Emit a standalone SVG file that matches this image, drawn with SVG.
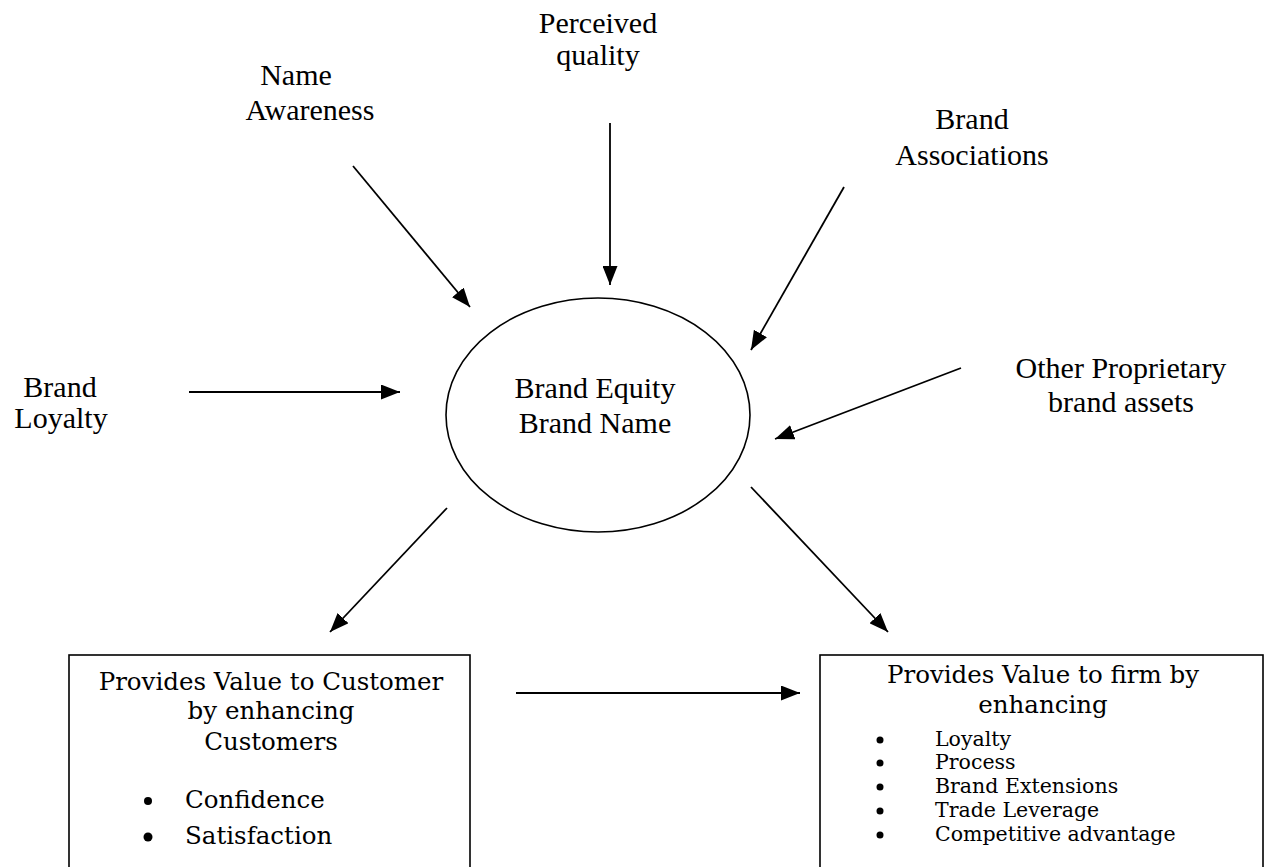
<svg xmlns="http://www.w3.org/2000/svg" width="1265" height="867" viewBox="0 0 1265 867">
<style>
.t{font-family:"Liberation Serif","Times New Roman",serif;font-size:30px;fill:#000;text-anchor:middle}
.b{font-family:"DejaVu Serif","Bookman Old Style",serif;font-size:24.5px;fill:#000}
.s{font-family:"DejaVu Serif","Bookman Old Style",serif;font-size:20.5px;fill:#000}
.c{text-anchor:middle}
.ln{stroke:#000;stroke-width:1.8;fill:none;marker-end:url(#ah)}
.sh{stroke:#000;stroke-width:1.6;fill:#fff}
</style>
<defs>
<marker id="ah" markerUnits="userSpaceOnUse" markerWidth="19" markerHeight="15" refX="19" refY="7.5" orient="auto">
<path d="M0,0 L19,7.5 L0,15 z" fill="#000"/>
</marker>
</defs>
<rect width="1265" height="867" fill="#fff"/>
<g id="connectors">
<line class="ln" x1="353" y1="166" x2="470" y2="307"/>
<line class="ln" x1="610" y1="123" x2="610" y2="285"/>
<line class="ln" x1="844" y1="187" x2="751" y2="350"/>
<line class="ln" x1="189" y1="392" x2="400" y2="392"/>
<line class="ln" x1="961" y1="368" x2="775" y2="439"/>
<line class="ln" x1="447" y1="508" x2="330" y2="632"/>
<line class="ln" x1="751" y1="487" x2="888" y2="632"/>
<line class="ln" x1="516" y1="693" x2="800" y2="693"/>
</g>
<g id="name-awareness">
<text class="t" x="296" y="85">Name</text>
<text class="t" x="310" y="120">Awareness</text>
</g>
<g id="perceived-quality">
<text class="t" x="598" y="33">Perceived</text>
<text class="t" x="598" y="65">quality</text>
</g>
<g id="brand-associations">
<text class="t" x="972" y="129">Brand</text>
<text class="t" x="972" y="165">Associations</text>
</g>
<g id="brand-loyalty">
<text class="t" x="60" y="397">Brand</text>
<text class="t" x="61" y="428">Loyalty</text>
</g>
<g id="other-assets">
<text class="t" x="1121" y="378">Other Proprietary</text>
<text class="t" x="1121" y="412">brand assets</text>
</g>
<g id="brand-equity">
<ellipse class="sh" cx="598" cy="415" rx="152" ry="117"/>
<text class="t" x="595" y="398">Brand Equity</text>
<text class="t" x="595" y="433">Brand Name</text>
</g>
<g id="customer-value">
<rect class="sh" x="69" y="655" width="401" height="230"/>
<text class="b c" x="271" y="690">Provides Value to Customer</text>
<text class="b c" x="271" y="719">by enhancing</text>
<text class="b c" x="271" y="750">Customers</text>
<circle cx="148" cy="801" r="4"/>
<text class="b" x="185" y="808">Confidence</text>
<circle cx="148" cy="837" r="4.5"/>
<text class="b" x="185" y="844">Satisfaction</text>
</g>
<g id="firm-value">
<rect class="sh" x="820" y="655" width="443" height="230"/>
<text class="b c" x="1043" y="683">Provides Value to firm by</text>
<text class="b c" x="1043" y="713">enhancing</text>
<circle cx="880" cy="740" r="3.5"/>
<text class="s" x="935" y="746">Loyalty</text>
<circle cx="880" cy="763" r="3.5"/>
<text class="s" x="935" y="769">Process</text>
<circle cx="880" cy="787" r="3.5"/>
<text class="s" x="935" y="793">Brand Extensions</text>
<circle cx="880" cy="811" r="3.5"/>
<text class="s" x="935" y="817">Trade Leverage</text>
<circle cx="880" cy="835" r="3.5"/>
<text class="s" x="935" y="841">Competitive advantage</text>
</g>
</svg>
